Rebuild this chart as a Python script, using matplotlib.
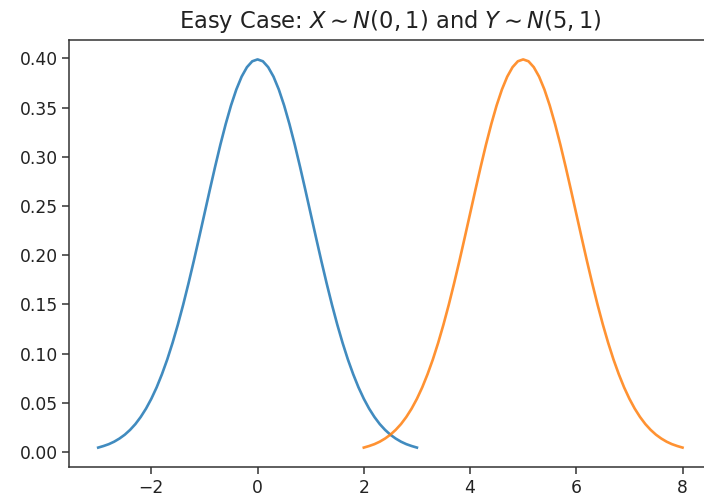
import matplotlib
matplotlib.use("Agg")
import matplotlib.pyplot as plt

# Values (density curves)
x_values = [-3.0, -2.9, -2.8, -2.7, -2.6, -2.5, -2.4, -2.3, -2.2, -2.1, -2.0,
            -1.9, -1.8, -1.7, -1.6, -1.5, -1.4, -1.3, -1.2, -1.1, -1.0,
            -0.9, -0.8, -0.7, -0.6, -0.5, -0.4, -0.3, -0.2, -0.1, 0.0,
            0.1, 0.2, 0.3, 0.4, 0.5, 0.6, 0.7, 0.8, 0.9, 1.0,
            1.1, 1.2, 1.3, 1.4, 1.5, 1.6, 1.7, 1.8, 1.9, 2.0,
            2.1, 2.2, 2.3, 2.4, 2.5, 2.6, 2.7, 2.8, 2.9, 3.0]
x_density = [0.0044, 0.0060, 0.0079, 0.0104, 0.0136, 0.0175, 0.0224, 0.0283,
             0.0355, 0.0440, 0.0540, 0.0656, 0.0790, 0.0940, 0.1109, 0.1295,
             0.1497, 0.1714, 0.1942, 0.2179, 0.2420, 0.2661, 0.2897, 0.3123,
             0.3332, 0.3521, 0.3683, 0.3814, 0.3910, 0.3970, 0.3989,
             0.3970, 0.3910, 0.3814, 0.3683, 0.3521, 0.3332, 0.3123, 0.2897,
             0.2661, 0.2420, 0.2179, 0.1942, 0.1714, 0.1497, 0.1295, 0.1109,
             0.0940, 0.0790, 0.0656, 0.0540, 0.0440, 0.0355, 0.0283, 0.0224,
             0.0175, 0.0136, 0.0104, 0.0079, 0.0060, 0.0044]

y_values = [2.0, 2.1, 2.2, 2.3, 2.4, 2.5, 2.6, 2.7, 2.8, 2.9, 3.0,
            3.1, 3.2, 3.3, 3.4, 3.5, 3.6, 3.7, 3.8, 3.9, 4.0,
            4.1, 4.2, 4.3, 4.4, 4.5, 4.6, 4.7, 4.8, 4.9, 5.0,
            5.1, 5.2, 5.3, 5.4, 5.5, 5.6, 5.7, 5.8, 5.9, 6.0,
            6.1, 6.2, 6.3, 6.4, 6.5, 6.6, 6.7, 6.8, 6.9, 7.0,
            7.1, 7.2, 7.3, 7.4, 7.5, 7.6, 7.7, 7.8, 7.9, 8.0]
y_density = [0.0044, 0.0060, 0.0079, 0.0104, 0.0136, 0.0175, 0.0224, 0.0283,
             0.0355, 0.0440, 0.0540, 0.0656, 0.0790, 0.0940, 0.1109, 0.1295,
             0.1497, 0.1714, 0.1942, 0.2179, 0.2420, 0.2661, 0.2897, 0.3123,
             0.3332, 0.3521, 0.3683, 0.3814, 0.3910, 0.3970, 0.3989,
             0.3970, 0.3910, 0.3814, 0.3683, 0.3521, 0.3332, 0.3123, 0.2897,
             0.2661, 0.2420, 0.2179, 0.1942, 0.1714, 0.1497, 0.1295, 0.1109,
             0.0940, 0.0790, 0.0656, 0.0540, 0.0440, 0.0355, 0.0283, 0.0224,
             0.0175, 0.0136, 0.0104, 0.0079, 0.0060, 0.0044]

title = r"Easy Case: $X \sim N(0, 1)$ and $Y \sim N(5, 1)$"

fig = plt.figure(figsize=(7.04, 5.0), dpi=100)
ax = fig.add_axes([0.098, 0.066, 0.913, 0.854])
ax.plot(x_values, x_density, color="#1f77b4", lw=1.9, alpha=0.85)
ax.plot(y_values, y_density, color="#ff7f0e", lw=1.9, alpha=0.85)
ax.set_yticks([0.0, 0.05, 0.10, 0.15, 0.20, 0.25, 0.30, 0.35, 0.40])
ax.set_yticklabels(["0.00", "0.05", "0.10", "0.15", "0.20", "0.25", "0.30", "0.35", "0.40"])
ax.set_xticks([-2, 0, 2, 4, 6, 8])
ax.tick_params(labelsize=12.3, length=5, width=1.1, color="#333333", labelcolor="#222222")
ax.tick_params(axis="y", pad=3)
for s in ax.spines.values():
    s.set_linewidth(1.1)
    s.set_color("#333333")
ax.set_title(title, fontsize=16.3, pad=9, color="#222222")
fig.savefig("out.png", dpi=100)
